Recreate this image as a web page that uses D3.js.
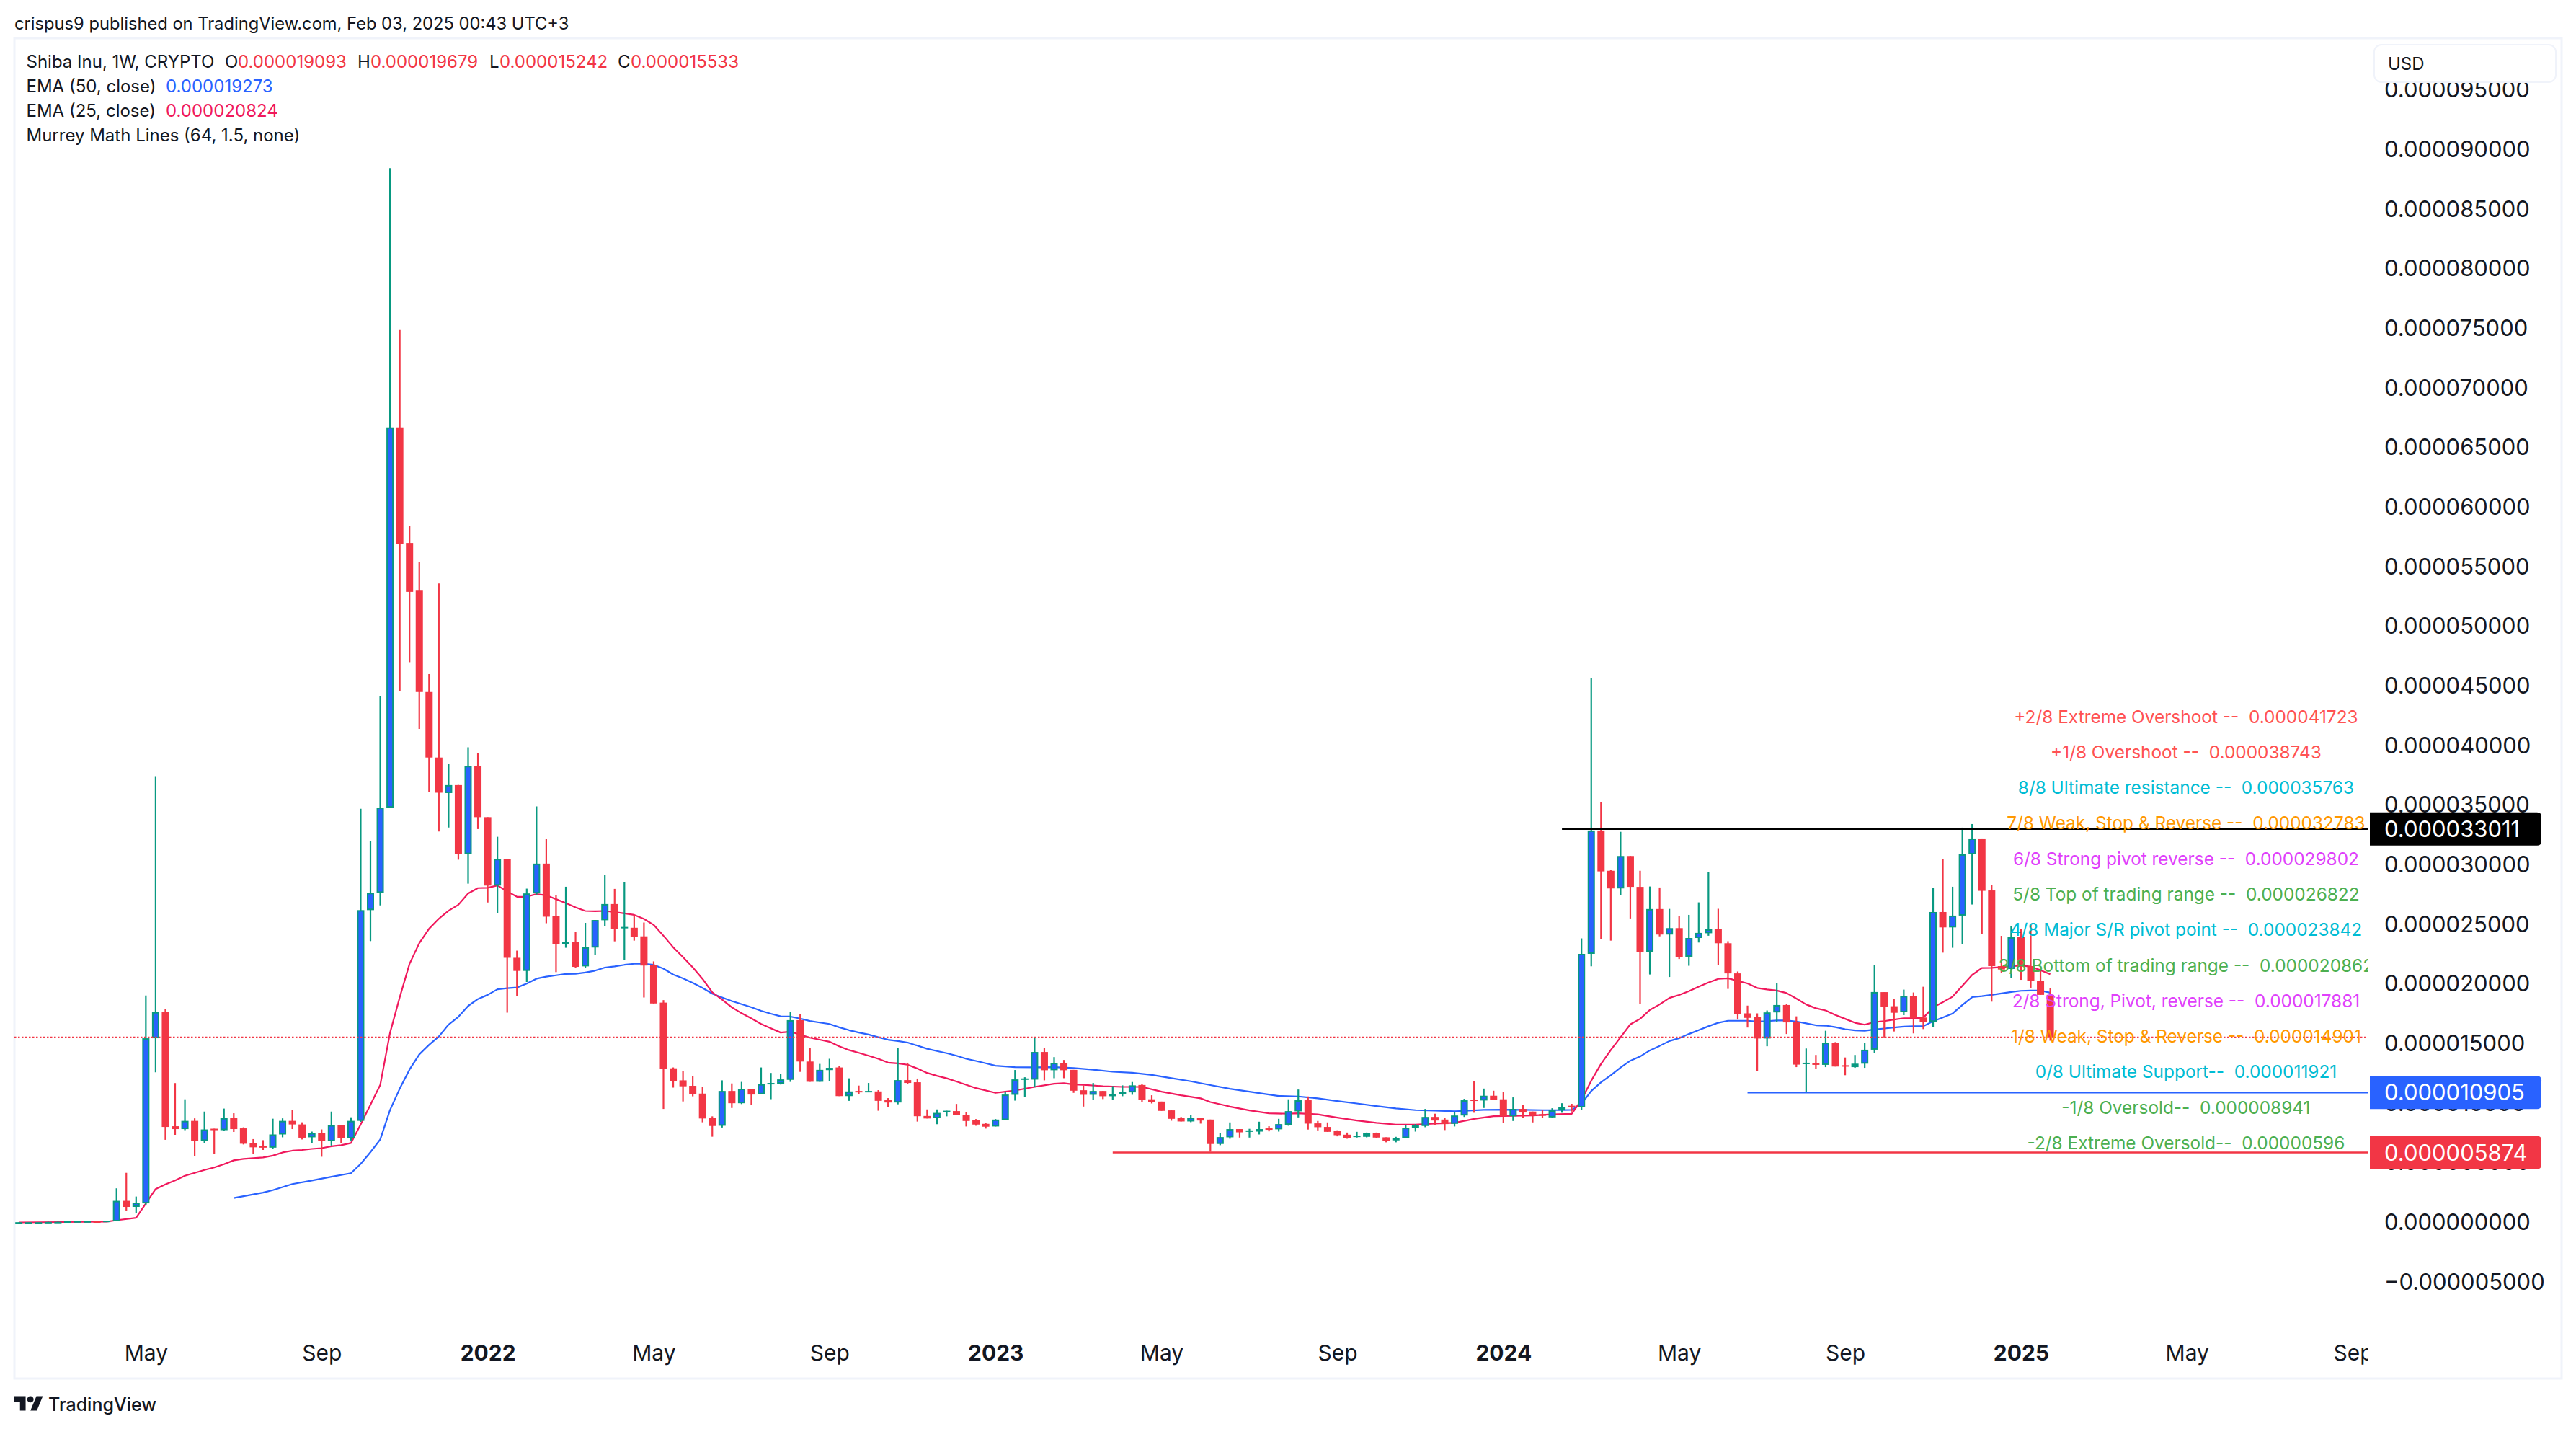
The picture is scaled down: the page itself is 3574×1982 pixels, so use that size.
<!DOCTYPE html>
<html>
<head>
<meta charset="utf-8">
<script src="https://cdnjs.cloudflare.com/ajax/libs/d3/7.8.5/d3.min.js"></script>
<style>
  html, body { margin: 0; padding: 0; background: #fff; }
  svg { display: block; }
  text { font-family: Inter, "Noto Sans", sans-serif; fill: #131722; white-space: pre; }
</style>
</head>
<body>
<svg width="3574" height="1982"></svg>
<script>
// all prices are in millionths of a dollar, first bar is number -10
var firstBar = -10;

var opens = [
  .02,.02,.02,.02,.04,.05,.07,.08,.09,.07,
  .09,1.81,1.30,1.6,15.45,17.65,8.07,7.83,8.52,6.84,
  7.86,7.74,8.76,7.89,6.63,6.39,6.27,7.38,8.52,8.22,
  7.14,7.5,6.81,8.16,7.05,8.52,26.2,27.65,34.8,66.7,
  57.0,53.0,44.5,39.0,36.02,36.69,30.9,38.3,34.0,28.26,
  30.5,22.2,21.1,27.6,30.1,25.7,23.36,23.5,21.48,23.06,
  25.35,26.71,24.68,24.72,24.0,21.6,18.44,12.93,11.92,11.46,
  10.81,8.76,8.11,11.03,10.0,11.22,10.75,11.64,11.64,11.96,
  16.97,13.5,11.8,12.78,13.0,10.6,11.03,10.97,10.99,10.25,
  10.06,11.94,11.76,8.93,8.74,9.3,9.34,9.04,8.57,8.27,
  8.05,8.59,10.71,11.98,11.98,14.3,12.77,13.39,12.8,11.09,
  10.71,11.03,10.59,10.77,10.91,11.53,10.33,10.14,9.4,8.75,
  8.47,8.79,8.63,6.58,7.14,7.83,7.64,7.62,7.89,7.81,
  8.19,9.32,10.25,8.31,8.01,7.67,7.36,7.18,7.18,7.48,
  7.14,6.88,7.08,7.93,8.09,8.85,8.63,8.27,8.97,10.31,
  10.23,10.63,10.33,8.91,9.52,9.3,9.07,8.81,9.4,9.79,
  9.65,22.53,32.88,29.5,28.02,30.74,28.15,22.7,26.29,24.15,
  24.69,22.29,23.86,24.26,24.59,23.42,20.89,17.54,17.21,15.43,
  17.62,18.24,16.81,13.32,13.35,13.22,15.08,13.19,13.03,13.32,
  14.49,19.32,18.14,17.63,19.0,17.19,16.83,26.04,24.75,25.74,
  30.88,32.21,27.85,21.5,21.26,23.92,21.5,20.29,19.093
];

var highs = [
  .03,.03,.03,.05,.06,.09,.11,.11,.10,.15,
  2.86,4.16,2.17,19.04,37.44,17.92,11.69,10.33,8.73,9.3,
  7.86,9.55,9.16,7.98,6.99,6.9,8.7,8.73,9.46,8.4,
  7.62,7.8,9.3,8.16,8.82,34.7,32.0,44.15,88.44,74.86,
  58.4,55.4,46.0,53.6,38.44,36.7,39.86,39.4,34.0,32.35,
  30.5,22.8,28.0,34.9,32.2,27.45,28.16,24.4,25.13,25.37,
  29.13,27.98,28.57,25.78,25.16,21.9,18.65,13.0,12.7,12.26,
  11.35,8.9,11.92,11.66,11.79,11.22,13.0,12.54,12.43,17.66,
  17.47,14.64,13.3,13.73,13.13,12.09,11.48,11.7,11.1,10.43,
  14.66,13.4,12.07,9.48,9.48,9.37,9.94,9.24,8.67,8.35,
  8.67,10.99,12.79,12.18,15.57,14.66,13.87,13.63,12.8,11.5,
  11.7,11.03,11.43,11.5,11.78,11.63,10.67,10.14,9.4,8.85,
  9.03,8.79,8.63,7.48,8.39,7.83,7.85,8.45,8.07,8.69,
  10.33,11.15,10.57,8.51,8.39,7.73,7.54,7.6,7.54,7.54,
  7.14,7.18,8.15,8.25,9.52,9.12,8.79,9.28,10.37,11.84,
  11.23,11.05,10.95,10.49,9.84,9.3,9.4,9.58,10.0,9.95,
  23.83,45.65,35.25,29.58,32.77,30.74,29.5,28.18,28.1,26.3,
  25.69,25.8,26.85,29.4,26.31,23.59,21.05,18.19,17.54,17.78,
  20.1,18.32,17.29,14.59,14.05,16.08,15.13,13.84,14.05,15.03,
  21.62,19.32,18.78,19.53,19.29,19.77,28.04,30.48,28.16,33.12,
  33.42,32.21,28.28,24.04,24.89,24.59,24.95,21.46,19.679
];

var lows = [
  .01,.01,.01,.01,.02,.04,.06,.07,.07,.06,
  .09,1.0,.78,1.45,12.6,6.93,7.35,7.74,5.57,6.66,
  5.72,7.68,7.59,6.54,5.75,6.08,6.14,7.14,7.83,6.96,
  6.66,5.51,6.45,6.66,6.87,8.43,23.6,26.6,34.8,44.6,
  47.0,41.4,36.1,32.8,33.13,30.43,28.42,33.0,26.84,25.93,
  17.6,19.0,20.17,27.5,25.1,21.0,23.04,21.38,21.35,22.43,
  24.85,23.58,22.0,23.64,18.87,18.37,9.52,11.31,10.15,10.58,
  8.4,7.19,7.96,9.6,9.93,9.84,10.75,10.34,11.57,11.79,
  12.63,11.8,11.8,11.85,10.6,10.2,10.77,10.92,9.37,9.67,
  9.91,11.6,8.46,8.72,8.24,8.9,9.02,8.05,8.11,7.87,
  8.05,8.59,10.22,10.53,11.33,11.92,12.1,12.1,10.87,9.72,
  10.29,10.35,10.29,10.59,10.71,10.1,9.98,9.36,8.53,8.47,
  8.41,8.29,5.93,6.48,7.02,7.12,7.12,7.38,7.64,7.62,
  8.11,8.81,7.79,7.72,7.6,7.22,7.02,7.12,7.14,7.1,
  6.72,6.72,7.08,7.62,7.99,8.19,7.75,8.05,8.85,9.2,
  9.6,10.29,8.35,8.51,8.75,8.39,8.75,8.75,9.2,9.3,
  9.44,21.48,23.78,23.64,27.48,25.5,18.32,20.8,24.0,20.59,
  22.1,21.53,23.48,24.05,21.62,19.59,17.02,16.35,12.7,14.78,
  16.81,15.81,13.03,10.9,12.89,13.03,13.08,12.35,12.97,12.97,
  14.2,15.52,16.02,17.39,15.86,16.22,16.42,22.63,23.04,23.34,
  26.67,24.19,18.52,20.96,20.52,20.35,19.69,19.09,15.242
];

var closes = [
  .02,.02,.02,.04,.05,.09,.10,.10,.08,.14,
  1.81,1.30,1.66,15.45,17.65,8.01,7.83,8.52,6.84,7.8,
  7.8,8.76,7.83,6.6,6.3,6.33,7.38,8.52,8.22,7.11,
  7.5,6.81,8.16,7.05,8.52,26.2,27.65,34.8,66.7,56.9,
  52.9,44.5,39.0,36.05,36.69,30.9,38.3,34.0,28.26,30.5,
  22.2,21.1,27.6,30.1,25.65,23.34,23.5,21.44,23.08,25.37,
  26.71,24.62,24.79,23.95,21.55,18.37,12.87,11.85,11.42,10.75,
  8.72,8.09,11.03,10.0,11.22,10.73,11.6,11.7,12.0,16.97,
  13.5,11.8,12.8,12.97,10.6,10.99,10.97,11.03,10.2,10.06,
  11.94,11.7,8.91,8.72,9.19,9.37,9.02,8.51,8.21,8.03,
  8.63,10.73,12.0,12.08,14.3,12.77,13.39,12.77,11.05,10.71,
  11.03,10.59,10.79,10.93,11.5,10.26,10.08,9.36,8.69,8.47,
  8.79,8.55,6.58,7.16,7.83,7.56,7.72,7.83,7.81,8.25,
  9.34,10.25,8.29,7.99,7.6,7.32,7.1,7.28,7.48,7.12,
  6.86,7.1,7.95,8.15,8.85,8.55,8.25,8.97,10.25,10.25,
  10.63,10.29,8.91,9.52,9.22,8.95,9.02,9.4,9.7,9.68,
  22.53,32.88,29.45,28.02,30.74,28.15,22.7,26.29,24.15,24.69,
  22.26,23.86,24.29,24.59,23.42,20.89,17.51,17.16,15.43,17.62,
  18.24,16.78,13.24,13.4,13.22,15.08,13.08,13.11,13.32,14.49,
  19.33,18.1,17.59,19.0,17.13,16.83,26.04,24.75,25.74,30.88,
  32.21,27.82,21.5,21.22,23.92,21.5,20.25,19.09,15.533
];

// [bar, value]
var ema25 = [
  [-10,0],[-1,.06],[0,.18],[2,.39],[3,1.6],[4,2.8],[5,3.19],[6,3.52],[7,3.92],[8,4.16],[9,4.4],[10,4.61],
  [11,4.88],[12,5.21],[13,5.33],[14,5.39],[15,5.45],[16,5.6],[17,5.87],[18,6.02],[19,6.08],[20,6.17],
  [21,6.23],[22,6.39],[23,6.48],[24,6.66],[25,8.22],[26,9.88],[27,11.54],[28,15.9],[29,18.9],[30,21.69],
  [31,23.43],[32,24.64],[33,25.48],[34,26.15],[35,26.65],[36,27.6],[37,28.05],[38,28.07],[39,28.27],
  [40,27.77],[41,27.32],[42,27.32],[43,27.55],[44,27.44],[45,27.12],[46,26.8],[47,26.43],[48,26.13],
  [49,26.11],[50,26.13],[51,26.04],[52,25.93],[53,25.8],[54,25.46],[55,24.96],[56,24.05],[57,23.08],
  [58,22.26],[59,21.4],[60,20.43],[61,19.3],[62,18.7],[63,18.05],[64,17.55],[65,17.12],[66,16.65],
  [67,16.28],[68,15.93],[69,16.0],[70,15.76],[71,15.5],[72,15.33],[73,15.16],[74,14.77],[75,14.46],
  [76,14.23],[77,13.99],[78,13.73],[79,13.41],[80,13.34],[81,13.23],[82,12.91],[83,12.54],[84,12.3],
  [85,12.09],[86,11.82],[88,11.27],[90,10.87],[91,10.97],[92,11.07],[94,11.37],[96,11.64],[97,11.68],
  [98,11.58],[99,11.54],[101,11.43],[103,11.37],[105,11.37],[107,10.97],[109,10.67],[111,10.41],[112,10.1],
  [114,9.72],[116,9.4],[118,9.16],[120,9.12],[121,9.16],[123,9.06],[125,8.79],[127,8.55],[129,8.35],
  [131,8.21],[133,8.21],[135,8.29],[137,8.35],[139,8.69],[141,8.91],[143,8.95],[145,8.97],[147,9.06],
  [149,9.11],[150,10.27],[151,11.89],[152,13.3],[153,14.46],[154,15.54],[155,16.62],[156,17.08],[157,17.83],
  [158,18.29],[159,18.83],[160,19.08],[161,19.4],[162,19.78],[163,20.13],[164,20.43],[165,20.48],[166,20.26],
  [167,20.05],[168,19.67],[169,19.54],[170,19.45],[171,19.24],[172,18.78],[173,18.29],[174,17.97],[175,17.78],
  [176,17.4],[177,17.08],[178,16.75],[179,16.59],[180,16.81],[181,16.89],[182,17.02],[183,17.13],[184,17.13],
  [185,17.17],[186,18.04],[187,18.48],[188,18.94],[189,19.85],[190,20.76],[191,21.34],[192,21.36],[193,21.42],
  [194,21.5],[195,21.54],[196,21.46],[197,21.16],[198,20.824]
];

var ema50 = [
  [12,2.05],[15,2.5],[16,2.71],[18,3.22],[20,3.52],[22,3.83],[24,4.13],[25,4.91],[26,5.9],[27,6.96],
  [28,9.43],[29,11.23],[30,12.83],[31,14.1],[32,14.9],[33,15.6],[34,16.6],[35,17.25],[36,18.16],[37,18.74],
  [38,19.09],[39,19.56],[40,19.65],[41,19.71],[42,20.04],[43,20.45],[44,20.62],[45,20.73],[46,20.84],
  [47,20.86],[48,20.97],[49,21.12],[50,21.38],[51,21.48],[52,21.61],[53,21.7],[54,21.7],[55,21.61],[56,21.29],
  [57,20.79],[58,20.47],[59,20.1],[60,19.67],[61,19.19],[62,18.87],[63,18.57],[64,18.31],[65,18.05],[66,17.75],
  [67,17.51],[68,17.29],[69,17.27],[70,17.1],[71,16.9],[72,16.77],[73,16.65],[74,16.37],[75,16.13],[76,15.93],
  [77,15.76],[78,15.54],[79,15.33],[80,15.22],[81,15.09],[82,14.83],[83,14.57],[84,14.38],[85,14.2],[86,13.99],
  [87,13.73],[88,13.55],[89,13.35],[90,13.15],[92,13.03],[94,13.01],[96,13.03],[98,12.95],[100,12.81],[102,12.64],
  [104,12.56],[106,12.38],[108,12.1],[110,11.84],[112,11.52],[114,11.21],[116,10.97],[118,10.73],[119,10.61],
  [121,10.57],[123,10.41],[125,10.18],[127,9.98],[129,9.76],[131,9.56],[133,9.42],[135,9.38],[137,9.32],[138,9.36],
  [140,9.44],[142,9.46],[144,9.44],[146,9.42],[148,9.42],[149,9.44],[150,9.95],[151,11.03],[152,11.76],[153,12.35],
  [154,13.0],[155,13.57],[156,13.92],[157,14.43],[158,14.81],[159,15.22],[160,15.46],[161,15.81],[162,16.13],
  [163,16.46],[164,16.75],[165,16.92],[166,16.92],[167,16.92],[168,16.86],[169,16.89],[170,16.94],[171,16.94],
  [172,16.86],[173,16.7],[174,16.54],[175,16.51],[176,16.38],[177,16.21],[178,16.11],[179,16.08],[180,16.19],
  [181,16.27],[182,16.35],[183,16.43],[184,16.46],[185,16.46],[186,16.87],[187,17.19],[188,17.53],[189,18.24],
  [190,18.9],[191,18.98],[192,19.09],[193,19.21],[194,19.33],[195,19.43],[196,19.45],[197,19.45],[198,19.273]
];

// y axis
var priceTicks = [-5,0,5,10,15,20,25,30,35,40,45,50,55,60,65,70,75,80,85,90,95];

// x axis, bar number of each label
var timeTickBars = [3,21,38,55,73,90,107,125,142,160,177,195,212,229];
var timeTickLabels = ["May","Sep","2022","May","Sep","2023","May","Sep","2024","May","Sep","2025","May","Sep"];

// Murrey math text
var murreyLabels = [
  "+2/8 Extreme Overshoot --  0.000041723",
  "+1/8 Overshoot --  0.000038743",
  "8/8 Ultimate resistance --  0.000035763",
  "7/8 Weak, Stop & Reverse --  0.000032783",
  "6/8 Strong pivot reverse --  0.000029802",
  "5/8 Top of trading range --  0.000026822",
  "4/8 Major S/R pivot point --  0.000023842",
  "3/8 Bottom of trading range --  0.000020862",
  "2/8 Strong, Pivot, reverse --  0.000017881",
  "1/8 Weak, Stop & Reverse --  0.000014901",
  "0/8 Ultimate Support--  0.000011921",
  "-1/8 Oversold--  0.000008941",
  "-2/8 Extreme Oversold--  0.00000596"
];
var murreyLevels = [41.723,38.743,35.763,32.783,29.802,26.822,23.842,20.862,17.881,14.901,11.921,8.941,5.96];
var murreyColors = ["#ff5252","#ff5252","#00bcd4","#ff9800","#e040fb","#4caf50","#00bcd4","#4caf50","#e040fb","#ff9800","#00bcd4","#4caf50","#4caf50"];

// drawn horizontal levels, start bar and tag
var levelValues = [33.011, 10.905, 5.874];
var levelStarts = [148, 167, 102];
var levelColors = ["#000000", "#2962ff", "#f23645"];
var lastClose = closes[closes.length - 1];

var upBody = "#2962ff", upEdge = "#089981", downColor = "#f23645";
var ema25Color = "#f0185c", ema50Color = "#2962ff";
var panelColor = "#f0f3fa";

var left = 20, right = 3286, top_ = 53, bottom = 1912, axisRightEdge = 3554;

var x = d3.scaleLinear().domain([0, 198]).range([161.7, 2844.6]);
var y = d3.scaleLinear().domain([0, 90]).range([1695.5, 207.5]);

var svg = d3.select("svg");

var bars = opens.map(function(o, i) {
  return {bar: firstBar + i, o: o, h: highs[i], l: lows[i], c: closes[i], up: closes[i] >= o};
});

var defs = svg.append("defs");
defs.append("clipPath").attr("id", "plot")
  .append("rect").attr("x", left).attr("y", top_).attr("width", right - left).attr("height", bottom - top_);
defs.append("clipPath").attr("id", "timeclip")
  .append("rect").attr("x", left).attr("y", -40).attr("width", right - left).attr("height", 80);

//panel frame
svg.append("rect")
  .attr("x", left).attr("y", top_)
  .attr("width", axisRightEdge - left).attr("height", bottom - top_)
  .attr("fill", "none").attr("stroke", panelColor).attr("stroke-width", 3);

//y axis labels
var yAxis = d3.axisRight(y)
  .tickValues(priceTicks)
  .tickSize(0)
  .tickPadding(0)
  .tickFormat(function(d) { return (d < 0 ? "\u2212" : "") + (Math.abs(d) * 1e-6).toFixed(9); });

var yG = svg.append("g").attr("transform", "translate(3308,0)").call(yAxis);
yG.select(".domain").remove();
yG.selectAll("text").style("font-family", "Inter").style("font-size", "31px").attr("fill", "#131722");

var plot = svg.append("g").attr("clip-path", "url(#plot)");

//moving averages sit under the candles
var line = d3.line().x(function(d) { return x(d[0]); }).y(function(d) { return y(d[1]); });

plot.append("path").datum(ema50).attr("d", line)
  .attr("fill", "none").attr("stroke", ema50Color).attr("stroke-width", 2.2).attr("stroke-linejoin", "round");
plot.append("path").datum(ema25).attr("d", line)
  .attr("fill", "none").attr("stroke", ema25Color).attr("stroke-width", 2.2).attr("stroke-linejoin", "round");

//wicks
plot.append("g").selectAll("line").data(bars).enter().append("line")
  .attr("x1", function(d) { return x(d.bar); })
  .attr("x2", function(d) { return x(d.bar); })
  .attr("y1", function(d) { return y(d.h); })
  .attr("y2", function(d) { return y(d.l); })
  .attr("stroke", function(d) { return d.up ? upEdge : downColor; })
  .attr("stroke-width", 2.2);

//candle bodies, the edge colour first
var bodyTop = function(d) { return y(Math.max(d.o, d.c)); };
var bodyHeight = function(d) { return Math.max(2, Math.abs(y(d.o) - y(d.c))); };

plot.append("g").selectAll("rect").data(bars).enter().append("rect")
  .attr("x", function(d) { return x(d.bar) - 5; })
  .attr("y", bodyTop)
  .attr("width", 10)
  .attr("height", bodyHeight)
  .attr("fill", function(d) { return d.up ? upEdge : downColor; });

plot.append("g").selectAll("rect")
  .data(bars.filter(function(d) { return d.up && bodyHeight(d) > 5; }))
  .enter().append("rect")
  .attr("x", function(d) { return x(d.bar) - 3; })
  .attr("y", function(d) { return bodyTop(d) + 2; })
  .attr("width", 6)
  .attr("height", function(d) { return bodyHeight(d) - 4; })
  .attr("fill", upBody);

//last close dotted line
plot.append("line")
  .attr("x1", left).attr("x2", right)
  .attr("y1", y(lastClose)).attr("y2", y(lastClose))
  .attr("stroke", downColor).attr("stroke-width", 1.8).attr("stroke-dasharray", "2.5 2.5");

//the three drawn levels
plot.append("g").selectAll("line").data(levelValues).enter().append("line")
  .attr("x1", function(d, i) { return x(levelStarts[i]); })
  .attr("x2", right)
  .attr("y1", function(d) { return y(d); })
  .attr("y2", function(d) { return y(d); })
  .attr("stroke", function(d, i) { return levelColors[i]; })
  .attr("stroke-width", 2.5);

//murrey labels
plot.append("g").selectAll("text").data(murreyLabels).enter().append("text")
  .attr("x", x(211.9))
  .attr("y", function(d, i) { return y(murreyLevels[i]) - 3; })
  .attr("text-anchor", "middle")
  .style("font-size", "24.4px")
  .style("fill", function(d, i) { return murreyColors[i]; })
  .text(function(d) { return d; });

//price tags over the axis
var tags = svg.append("g").selectAll("g").data(levelValues).enter().append("g");
tags.append("path")
  .attr("d", function(d) {
    var t = y(d) - 23, b = y(d) + 23, l = 3288, r = 3526, c = 6;
    return "M" + l + "," + t + "H" + (r - c) + "Q" + r + "," + t + " " + r + "," + (t + c) +
           "V" + (b - c) + "Q" + r + "," + b + " " + (r - c) + "," + b + "H" + l + "Z";
  })
  .attr("fill", function(d, i) { return levelColors[i]; });
tags.append("text")
  .attr("x", 3308)
  .attr("y", function(d) { return y(d); })
  .attr("dy", "0.36em")
  .style("font-size", "31px")
  .style("fill", "#fff")
  .text(function(d) { return (d * 1e-6).toFixed(9); });

//USD box
svg.append("rect")
  .attr("x", 3294).attr("y", 62).attr("width", 252).attr("height", 52).attr("rx", 10)
  .attr("fill", "#fff").attr("stroke", panelColor).attr("stroke-width", 2);
svg.append("text").attr("x", 3313).attr("y", 97).style("font-size", "24px").text("USD");

//time axis, clipped where it meets the price axis
var xAxis = d3.axisBottom(x)
  .tickValues(timeTickBars)
  .tickSize(0)
  .tickPadding(0)
  .tickFormat(function(d, i) { return timeTickLabels[i]; });

var xG = svg.append("g").attr("transform", "translate(0,1876)").attr("clip-path", "url(#timeclip)").call(xAxis);
xG.select(".domain").remove();
xG.selectAll("text")
  .attr("dy", "0.36em")
  .attr("y", 0)
  .attr("fill", "#131722")
  .style("font-family", "Inter")
  .style("font-size", "30px")
  .style("font-weight", function(d, i) { return /^\d/.test(timeTickLabels[i]) ? 700 : 400; });

//header and legend
svg.append("text").attr("x", 20).attr("y", 41).style("font-size", "23.7px")
  .text("crispus9 published on TradingView.com, Feb 03, 2025 00:43 UTC+3");

var legendFont = "24px";
var legendX = 36.5;
var legendRed = "#f23645";

function legend(xp, yp, txt, col) {
  svg.append("text").attr("x", xp).attr("y", yp).style("font-size", legendFont)
    .style("fill", col || "#131722").text(txt);
}

legend(legendX, 94, "Shiba Inu, 1W, CRYPTO");
legend(312, 94, "O"); legend(330, 94, "0.000019093", legendRed);
legend(496, 94, "H"); legend(514, 94, "0.000019679", legendRed);
legend(679, 94, "L"); legend(693, 94, "0.000015242", legendRed);
legend(857, 94, "C"); legend(875, 94, "0.000015533", legendRed);
legend(legendX, 128, "EMA (50, close)"); legend(230, 128, "0.000019273", ema50Color);
legend(legendX, 162, "EMA (25, close)"); legend(230, 162, "0.000020824", ema25Color);
legend(legendX, 196, "Murrey Math Lines (64, 1.5, none)");

//tradingview mark
var logo = svg.append("g").attr("transform", "translate(20,1932) scale(1.11)").attr("fill", "#131722");
logo.append("path").attr("d", "M14 22H7V11H0V4h14v18zM28 22h-8l7.5-18h8L28 22z");
logo.append("circle").attr("cx", 20).attr("cy", 8).attr("r", 4);
svg.append("text").attr("x", 67).attr("y", 1957).style("font-size", "25px").style("font-weight", 500).text("TradingView");
</script>
</body>
</html>
